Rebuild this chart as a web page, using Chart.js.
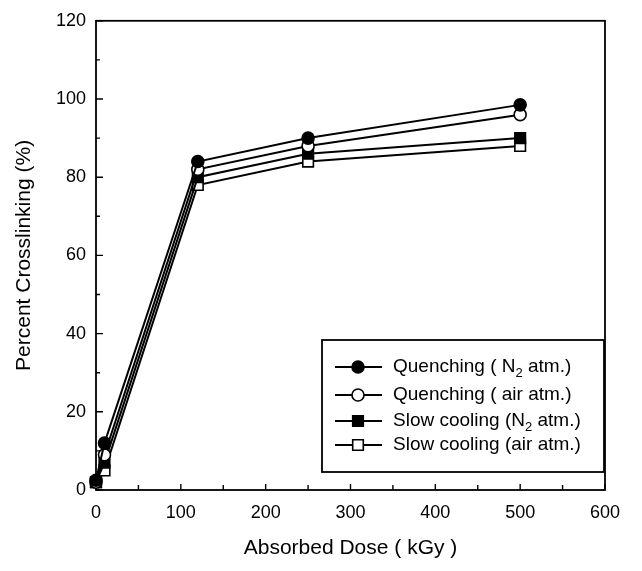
<!DOCTYPE html>
<html>
<head>
<meta charset="utf-8">
<script src="https://cdn.jsdelivr.net/npm/chart.js@4.4.0/dist/chart.umd.min.js"></script>
<style>
  html, body { margin: 0; padding: 0; background: #fff; }
  #chart { display: block; }
</style>
</head>
<body>
<canvas id="chart" width="642" height="571"></canvas>
<script>
// absorbed dose (kGy)
const doses = [0, 10, 120, 250, 500];

// percent crosslinking (%)
const quenchN2 = [2.5, 12, 84, 90, 98.5];
const quenchAir = [2, 9, 82, 88, 96];
const slowN2 = [2, 7, 80, 86, 90];
const slowAir = [2, 5, 78, 84, 88];

const seriesLabels = [
  'Quenching ( N_2 atm.)',
  'Quenching ( air atm.)',
  'Slow cooling (N_2 atm.)',
  'Slow cooling (air atm.)',
];

const xTickValues = [0, 100, 200, 300, 400, 500, 600];
const yTickValues = [0, 20, 40, 60, 80, 100, 120];

const FONT = "'Liberation Sans', Arial, sans-serif";

function points(ys) {
  return doses.map((x, i) => ({ x: x, y: ys[i] }));
}

function series(label, ys, style, fill, radius) {
  return {
    label: label,
    data: points(ys),
    borderColor: '#000',
    borderWidth: 2,
    pointStyle: style,
    pointRadius: radius,
    pointBackgroundColor: fill,
    pointBorderColor: '#000',
    pointBorderWidth: 1.6,
    clip: false,
  };
}

// frame + inward ticks (major and minor)
const framePlugin = {
  id: 'frame',
  beforeDatasetsDraw(chart) {
    const { ctx, chartArea: a, scales: { x, y } } = chart;
    ctx.save();
    ctx.strokeStyle = '#000';
    ctx.lineWidth = 1.8;
    ctx.strokeRect(a.left, a.top, a.right - a.left, a.bottom - a.top);
    ctx.lineWidth = 1.4;
    ctx.beginPath();
    for (let v = x.min; v <= x.max; v += 50) {
      const px = x.getPixelForValue(v);
      const len = v % 100 === 0 ? 6 : 5;
      ctx.moveTo(px, a.bottom);
      ctx.lineTo(px, a.bottom - len);
    }
    for (let v = y.min; v <= y.max; v += 10) {
      const py = y.getPixelForValue(v);
      const len = v % 20 === 0 ? 7 : 4;
      ctx.moveTo(a.left, py);
      ctx.lineTo(a.left + len, py);
    }
    ctx.stroke();
    ctx.restore();
  },
};

// text with "_2" style subscripts
function drawRich(ctx, text, x, y) {
  const parts = text.split(/_(\d)/);
  let cx = x;
  parts.forEach((p, i) => {
    if (i % 2 === 1) {
      ctx.font = '13px ' + FONT;
      ctx.fillText(p, cx, y + 6);
    } else {
      ctx.font = '19px ' + FONT;
      ctx.fillText(p, cx, y);
    }
    cx += ctx.measureText(p).width;
  });
}

const legendPlugin = {
  id: 'boxLegend',
  afterDraw(chart) {
    const { ctx, chartArea: a } = chart;
    const w = 282, h = 132;
    const right = a.right - 1, bottom = a.bottom - 18;
    const left = right - w, top = bottom - h;
    const rows = [27, 55, 81, 105];
    ctx.save();
    ctx.fillStyle = '#fff';
    ctx.fillRect(left, top, w, h);
    ctx.strokeStyle = '#000';
    ctx.lineWidth = 1.8;
    ctx.strokeRect(left, top, w, h);
    chart.data.datasets.forEach((ds, i) => {
      const cy = top + rows[i];
      ctx.strokeStyle = '#000';
      ctx.lineWidth = 2;
      ctx.beginPath();
      ctx.moveTo(left + 13, cy);
      ctx.lineTo(left + 60, cy);
      ctx.stroke();
      ctx.fillStyle = ds.pointBackgroundColor;
      ctx.lineWidth = ds.pointBorderWidth;
      Chart.helpers.drawPoint(ctx, {
        pointStyle: ds.pointStyle,
        radius: ds.pointRadius,
        borderWidth: ds.pointBorderWidth,
        rotation: 0,
      }, left + 36, cy);
      ctx.fillStyle = '#000';
      ctx.textBaseline = 'middle';
      ctx.textAlign = 'left';
      drawRich(ctx, ds.label, left + 71, cy);
    });
    ctx.restore();
  },
};

new Chart(document.getElementById('chart'), {
  type: 'line',
  data: {
    datasets: [
      series(seriesLabels[0], quenchN2, 'circle', '#000', 6),
      series(seriesLabels[1], quenchAir, 'circle', '#fff', 6),
      series(seriesLabels[2], slowN2, 'rect', '#000', 7.5),
      series(seriesLabels[3], slowAir, 'rect', '#fff', 7.5),
    ],
  },
  options: {
    responsive: false,
    animation: false,
    layout: { padding: { left: 0, top: 16, right: 37, bottom: 0 } },
    plugins: {
      legend: { display: false },
      tooltip: { enabled: false },
    },
    scales: {
      x: {
        type: 'linear',
        min: 0,
        max: 600,
        afterBuildTicks: s => { s.ticks = xTickValues.map(v => ({ value: v })); },
        afterFit: s => { s.height = 81; },
        grid: { display: false, drawTicks: false },
        border: { display: false },
        ticks: { color: '#000', padding: 12, font: { family: FONT, size: 18 } },
        title: {
          display: true,
          text: 'Absorbed Dose ( kGy )',
          color: '#000',
          font: { family: FONT, size: 21 },
          padding: { top: 0, bottom: 10 },
        },
      },
      y: {
        type: 'linear',
        min: 0,
        max: 120,
        afterBuildTicks: s => { s.ticks = yTickValues.map(v => ({ value: v })); },
        afterFit: s => { s.width = 96; },
        grid: { display: false, drawTicks: false },
        border: { display: false },
        ticks: { color: '#000', padding: 10, font: { family: FONT, size: 18 } },
        title: {
          display: true,
          text: 'Percent Crosslinking (%)',
          color: '#000',
          font: { family: FONT, size: 21 },
          padding: { top: 12, bottom: 0 },
        },
      },
    },
  },
  plugins: [framePlugin, legendPlugin],
});
</script>
</body>
</html>
